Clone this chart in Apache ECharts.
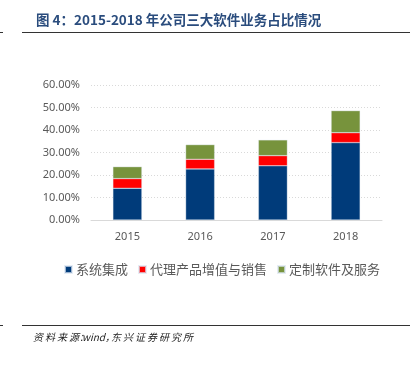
<!DOCTYPE html>
<html>
<head>
<meta charset="utf-8">
<script src="https://cdn.jsdelivr.net/npm/echarts@6/dist/echarts.min.js"></script>
<style>
html,body{margin:0;padding:0;background:#fff;}
#chart{width:418px;height:365px;}
</style>
</head>
<body>
<div id="chart"></div>
<script>
const categories = ['2015', '2016', '2017', '2018'];
const systemIntegration = [14.1, 22.7, 24.1, 34.4];
const agencyProducts = [4.3, 4.3, 4.5, 4.4];
const customSoftware = [5.3, 6.5, 7.0, 9.8];
const seriesNames = ['系统集成', '代理产品增值与销售', '定制软件及服务'];
const yTicks = [0, 10, 20, 30, 40, 50, 60];

const chart = echarts.init(document.getElementById('chart'));
const colors = ['#003B7A', '#FF0000', '#77933C'];
const dataSets = [systemIntegration, agencyProducts, customSoftware];
const srcFont = 'italic 10px "Noto Sans CJK SC", sans-serif';

chart.setOption({
  animation: false,
  title: {
    text: '图 4：2015-2018 年公司三大软件业务占比情况',
    left: 31, top: 8,
    textStyle: {fontFamily: '"Noto Sans CJK SC", sans-serif', fontSize: 13.5, fontWeight: 'bold', color: '#2A4C7D'}
  },
  graphic: [
    {type: 'line', shape: {x1: 22, y1: 32.5, x2: 410, y2: 32.5}, style: {stroke: '#333', lineWidth: 1}},
    {type: 'line', shape: {x1: 0, y1: 32.5, x2: 3, y2: 32.5}, style: {stroke: '#333', lineWidth: 1}},
    {type: 'line', shape: {x1: 22, y1: 325.5, x2: 410, y2: 325.5}, style: {stroke: '#333', lineWidth: 1}},
    {type: 'line', shape: {x1: 0, y1: 325.5, x2: 3, y2: 325.5}, style: {stroke: '#333', lineWidth: 1}},
    {type: 'text', left: 33, top: 332, style: {text: '资\u2009料\u2009来\u2009源：', font: srcFont, fill: '#222'}},
    {type: 'text', left: 82, top: 332, style: {text: 'wind，', font: srcFont, fill: '#222'}},
    {type: 'text', left: 111, top: 332, style: {text: '东\u2009兴\u2009证\u2009券\u2009研\u2009究\u2009所', font: srcFont, fill: '#222'}}
  ],
  legend: {
    top: 258, left: 59,
    itemWidth: 7, itemHeight: 7, itemGap: 10,
    icon: 'rect',
    textStyle: {fontFamily: '"Noto Sans CJK SC", sans-serif', fontSize: 13, color: '#595959', padding: [0,0,0,-1]},
    data: seriesNames
  },
  grid: {left: 91, right: 36, top: 85, bottom: 145, containLabel: false},
  xAxis: {
    type: 'category', data: categories,
    axisLine: {lineStyle: {color: '#D9D9D9'}},
    axisTick: {show: false},
    axisLabel: {fontFamily: '"Noto Sans", sans-serif', fontSize: 11, color: '#595959', margin: 11}
  },
  yAxis: {
    type: 'value', min: yTicks[0], max: yTicks[yTicks.length-1], interval: 10,
    axisLine: {show: false}, axisTick: {show: false},
    axisLabel: {fontFamily: '"Noto Sans", sans-serif', fontSize: 11, color: '#595959', margin: 11,
      formatter: v => v.toFixed(2) + '%'},
    splitLine: {lineStyle: {color: '#D9D9D9', type: [1, 2]}}
  },
  series: seriesNames.map((n, i) => ({
    name: n, type: 'bar', stack: 'total', barWidth: 29,
    data: dataSets[i],
    itemStyle: {color: colors[i], borderColor: 'rgba(220,230,242,0.7)', borderWidth: 0.5}
  }))
});
</script>
</body>
</html>
